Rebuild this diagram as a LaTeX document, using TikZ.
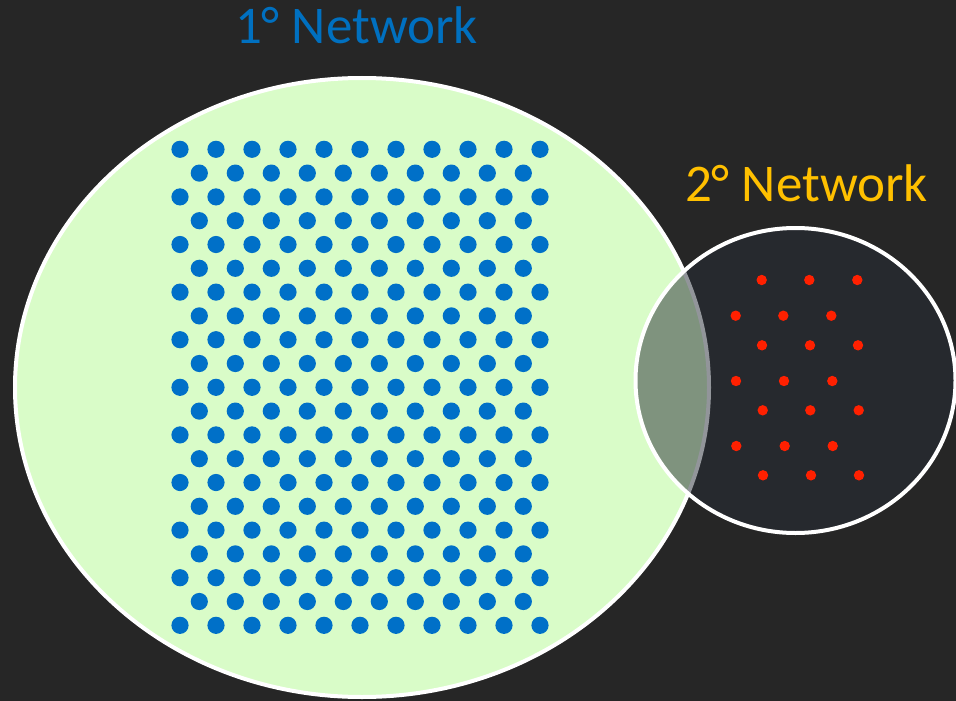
\documentclass[tikz,border=0pt]{standalone}
\usepackage{fontspec}
\setmainfont{Carlito}
\definecolor{bgdark}{HTML}{262626}
\definecolor{greenfill}{HTML}{D9FCC8}
\definecolor{bluedot}{HTML}{0070C8}
\definecolor{reddot}{HTML}{FF2000}
\definecolor{circfill}{HTML}{262C36}
\definecolor{titleblue}{HTML}{0070C0}
\definecolor{titlegold}{HTML}{FFC000}
\begin{document}
\begin{tikzpicture}[x=1pt,y=-1pt,
  bluept/.style={fill=bluedot},
  redpt/.style={fill=reddot},
  titletext/.style={font=\fontsize{53}{60}\selectfont, anchor=base, inner sep=0pt}]
\fill[bgdark] (0,0) rectangle (956,701);
\useasboundingbox (0,0) rectangle (956,701);
% primary network
\draw[white, line width=4pt, fill=greenfill] (362,387.5) ellipse [x radius=347, y radius=309.5];
\foreach \r in {0,...,10} {
  \foreach \c in {0,...,10} {
    \fill[bluept] ({180+36*\c},{149.3+47.6*\r}) circle (8.6);
  }
}
\foreach \r in {0,...,9} {
  \foreach \c in {0,...,9} {
    \fill[bluept] ({199.3+36*\c},{173.1+47.6*\r}) circle (8.6);
  }
}
% secondary network
\fill[circfill, fill opacity=0.5] (795.5,380.5) ellipse [x radius=160, y radius=152.5];
\draw[white, line width=4pt] (795.5,380.5) ellipse [x radius=160, y radius=152.5];
\foreach \x/\y in {761.7/280, 809.3/280, 857.3/280,
                   735.7/315.7, 783.3/315.7, 831.3/315.7,
                   762/345.3, 810/345.3, 858/345.3,
                   736/381, 784/381, 832.3/381,
                   762.7/410.3, 810.3/410.3, 858.7/410.3,
                   736.3/446, 784.7/446, 832.7/446,
                   763/475.3, 811/475.3, 859/475.3} {
  \fill[redpt] (\x,\y) circle (5.2);
}
\node[titletext, text=titleblue] (t1) at (356.5,43.5) {1° Network};
\node[titletext, text=titlegold] (t2) at (806.5,201) {2° Network};
\end{tikzpicture}
\end{document}
